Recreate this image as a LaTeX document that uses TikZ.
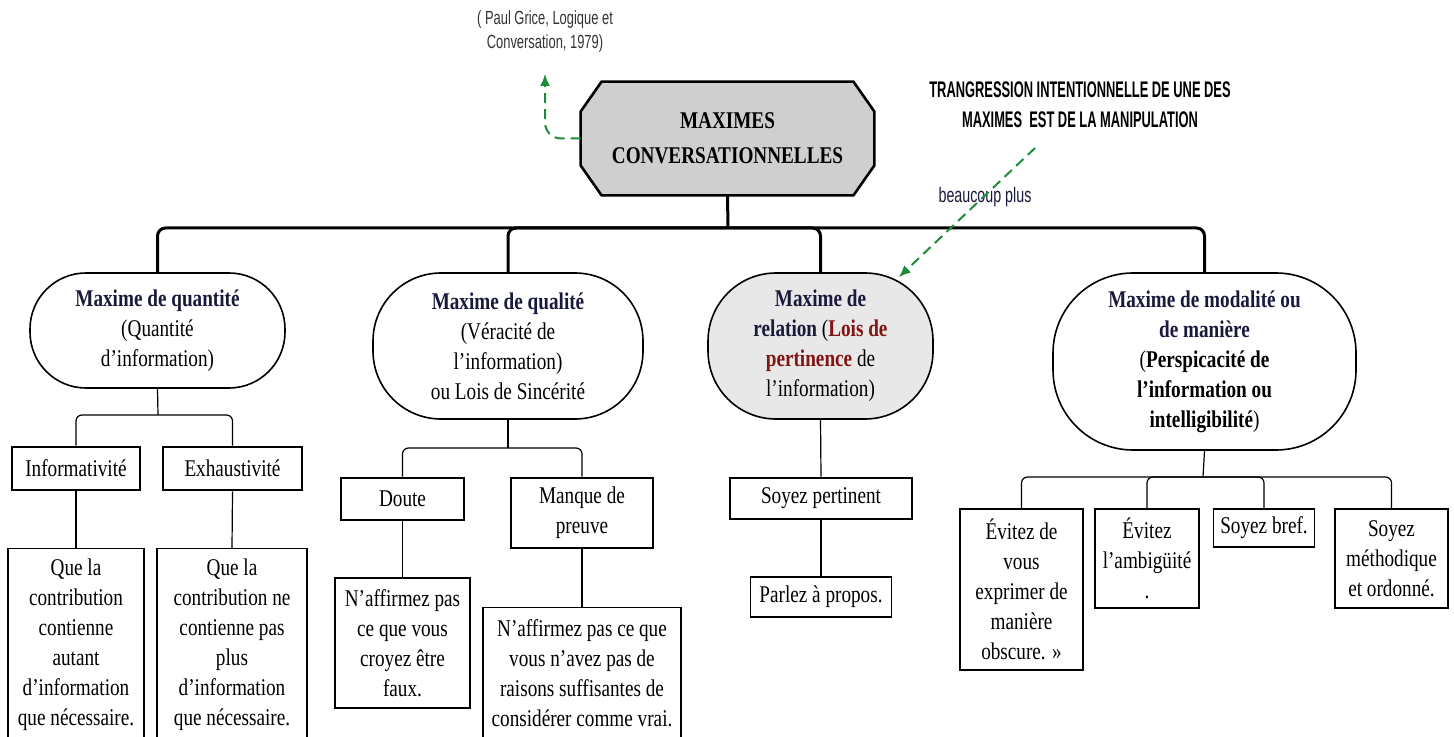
\documentclass[tikz,border=0pt]{standalone}
\usepackage{fontspec}
\setmainfont{Liberation Serif}[FakeStretch=0.8]
\newfontfamily\notefont{Liberation Sans}[FakeStretch=0.68]
\newfontfamily\capsfont{Liberation Sans}[FakeStretch=0.57]
\usetikzlibrary{arrows.meta,calc,backgrounds}
\definecolor{titlecol}{RGB}{25,25,60}
\definecolor{redtext}{RGB}{130,20,20}
\definecolor{arrowgreen}{RGB}{30,140,60}
\newcommand{\mxtitle}[1]{\textbf{\color{titlecol}#1}}
\tikzstyle{trunk}=[line width=1.5pt,rounded corners=4pt]
\tikzstyle{twig}=[line width=0.6pt,rounded corners=3pt]
\tikzstyle{maxime}=[draw,line width=0.8pt,align=center,inner sep=0pt,font=\fontsize{12}{15}\selectfont]
\tikzstyle{rulebox}=[draw,line width=1.4pt,align=center,inner sep=0pt,font=\fontsize{12}{15}\selectfont]
\tikzstyle{examplebox}=[draw,line width=0.6pt,align=center,inner sep=0pt,font=\fontsize{12}{15}\selectfont]
\tikzstyle{greendash}=[arrowgreen,line width=1pt,dash pattern=on 5pt off 3pt,-{Latex[length=6pt,width=5pt]}]

\begin{document}
\begin{tikzpicture}[x=0.5pt,y=-0.5pt]
\useasboundingbox (0,0) rectangle (1454,737);

\node (root) at (727.5,138.5) [minimum width=146.5pt,minimum height=56.5pt,align=center,inner sep=0pt,
  font=\fontsize{12}{17.5}\selectfont\bfseries] {MAXIMES\\CONVERSATIONNELLES};
\begin{pgfonlayer}{background}
\draw[line width=1.3pt,fill=black!19] ($(root.north west)+(21,0)$)--($(root.north east)+(-21,0)$)--($(root.north east)+(0,30)$)
  --($(root.south east)+(0,-30)$)--($(root.south east)+(-21,0)$)--($(root.south west)+(21,0)$)
  --($(root.south west)+(0,-30)$)--($(root.north west)+(0,30)$)--cycle;
\end{pgfonlayer}

\node (cite) at (545,32) [align=center,text=black!80,font=\notefont\fontsize{9.5}{12}\selectfont] {( Paul Grice, Logique et\\Conversation, 1979)};
\node (trans) at (1080,105) [align=center,font=\capsfont\fontsize{11.3}{15}\selectfont\bfseries] {TRANGRESSION INTENTIONNELLE DE UNE DES\\MAXIMES~~EST DE LA MANIPULATION};
\node (plus) at (985,197) [text=titlecol,font=\notefont\fontsize{10.5}{12}\selectfont] {beaucoup plus};
\coordinate (tstart) at (1035,148);

\node (q) at (157.5,330.5) [maxime,minimum width=127.5pt,minimum height=57.5pt,rounded corners=28pt]
  {\mxtitle{Maxime de quantité}\\(Quantité\\d’information)};
\node (l) at (508,346) [maxime,minimum width=135pt,minimum height=73pt,rounded corners=34pt]
  {\mxtitle{Maxime de qualité}\\(Véracité de\\l’information)\\ou Lois de Sincérité};
\node (r) at (820.5,346) [maxime,fill=black!9,minimum width=112.5pt,minimum height=73pt,rounded corners=34pt]
  {\mxtitle{Maxime de}\\\mxtitle{relation} (\textbf{\color{redtext}Lois de}\\\textbf{\color{redtext}pertinence} de\\l’information)};
\node (m) at (1204.5,361.5) [maxime,minimum width=151.5pt,minimum height=88.5pt,rounded corners=40pt]
  {\mxtitle{Maxime de modalité ou}\\\mxtitle{de manière}\\(\textbf{Perspicacité de}\\\textbf{l’information ou}\\\textbf{intelligibilité})};

\coordinate (bar) at (728,228);
\draw[trunk] (root.south)--(bar);
\draw[trunk] (q.north) |- (bar) -| (m.north);
\draw[trunk] (l.north) |- (bar);
\draw[trunk] (r.north) |- (bar);

\node (qa) at (76,468.5) [rulebox,minimum width=64pt,minimum height=21.5pt] {Informativité};
\node (qb) at (232.5,468.5) [rulebox,minimum width=69.5pt,minimum height=21.5pt] {Exhaustivité};
\node (la) at (402.5,499) [rulebox,minimum width=61.5pt,minimum height=21pt] {Doute};
\node (lb) at (582,513) [rulebox,minimum width=71pt,minimum height=35pt] {Manque de\\preuve};
\node (ra) at (821,498.5) [rulebox,minimum width=91pt,minimum height=20.5pt] {Soyez pertinent};

\coordinate (qbar) at (158,415);
\draw[twig] (q.south)--(qbar);
\draw[twig] (qa.north) |- (qbar) -| (qb.north);
\coordinate (lbar) at (508,448);
\draw[twig] (l.south)--(lbar);
\draw[twig] (la.north) |- (lbar) -| (lb.north);
\draw[twig] (r.south)--(ra.north);

\node (qa1) at (76,548) [examplebox,anchor=north,minimum width=68pt,inner ysep=5pt,text depth=14pt]
  {Que la\\contribution\\contienne\\autant\\d’information\\que nécessaire.};
\node (qb1) at (232,548) [examplebox,anchor=north,minimum width=75pt,inner ysep=5pt,text depth=14pt]
  {Que la\\contribution ne\\contienne pas\\plus\\d’information\\que nécessaire.};
\node (la1) at (402.5,643) [examplebox,minimum width=67.5pt,minimum height=65pt]
  {N’affirmez pas\\ce que vous\\croyez être\\faux.};
\node (lb1) at (582,607) [examplebox,anchor=north,minimum width=99pt,inner ysep=6pt,text depth=14pt]
  {N’affirmez pas ce que\\vous n’avez pas de\\raisons suffisantes de\\considérer comme vrai.};
\node (ra1) at (821,597) [examplebox,minimum width=70.5pt,minimum height=20pt] {Parlez à propos.};
\draw[twig] (qa.south)--(qa1.north);
\draw[twig] (qb.south)--(qb1.north);
\draw[twig] (la.south)--(la1.north);
\draw[twig] (lb.south)--(lb1.north);
\draw[twig] (ra.south)--(ra1.north);

\node (ma) at (1021.5,589.5) [examplebox,minimum width=61.5pt,minimum height=80.5pt]
  {Évitez de\\vous\\exprimer de\\manière\\obscure. »};
\node (mb) at (1147,558.5) [examplebox,minimum width=52pt,minimum height=49.5pt] {Évitez\\l’ambigüité\\.};
\node (mc) at (1264,528) [examplebox,minimum width=50.5pt,minimum height=19pt] {Soyez bref.};
\node (md) at (1391.5,558.5) [examplebox,minimum width=56.5pt,minimum height=49.5pt] {Soyez\\méthodique\\et ordonné.};
\coordinate (mbar) at (1203,477);
\draw[twig] (m.south)--(mbar);
\draw[twig] (ma.north) |- (mbar) -| (md.north);
\draw[twig] (mb.north) |- (mbar);
\draw[twig] (mc.north) |- (mbar);

\draw[greendash,rounded corners=8pt] (root.west) -| ($(cite.south)+(0,14)$);
\draw[greendash] (tstart)--($(r.north east)+(-35,5)$);
\end{tikzpicture}
\end{document}
